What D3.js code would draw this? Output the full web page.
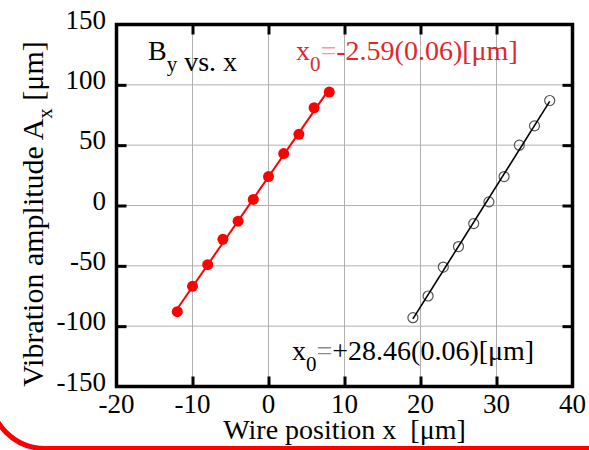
<!DOCTYPE html>
<html>
<head>
<meta charset="utf-8">
<script src="https://cdn.jsdelivr.net/npm/d3@7"></script>
<style>
  body { margin: 0; background: #fff; }
  text { font-family: "Liberation Serif", "Times New Roman", serif; white-space: pre; }
</style>
</head>
<body>
<div id="chart"></div>
<script>
// B_y vs. x scan, two wire positions
const redX = [-12, -10, -8, -6, -4, -2, 0, 2, 4, 6, 8];
const redY = [-88, -67, -49, -28, -13, 5, 24, 43, 59, 81, 94];
const blackX = [19, 21, 23, 25, 27, 29, 31, 33, 35, 37];
const blackY = [-93, -75, -51, -34, -15, 3, 24, 50, 66, 87];
const xTicks = [-20, -10, 0, 10, 20, 30, 40];
const yTicks = [-150, -100, -50, 0, 50, 100, 150];

var width = 589, height = 450;
var plot = { left: 116.5, right: 572.5, top: 24.5, bottom: 386.5 };

var svg = d3.select("#chart").append("svg")
    .attr("width", width)
    .attr("height", height);

let x = d3.scaleLinear().domain([-20, 40]).range([plot.left, plot.right]);
let y = d3.scaleLinear().domain([-150, 150]).range([plot.bottom, plot.top]);

// red rounded frame around the slide (only its bottom-left corner shows)
svg.append("rect")
    .attr("x", -10).attr("y", -120)
    .attr("width", width + 200).attr("height", 568.5)
    .attr("rx", 55).attr("ry", 55)
    .style("fill", "none")
    .style("stroke", "#ff0000")
    .style("stroke-width", 5);

// grid
let inner = d => d > -20 && d < 40;
let innerY = d => d > -150 && d < 150;
svg.selectAll(".gx").data(xTicks.filter(inner)).enter().append("line")
    .attr("x1", d => x(d)).attr("x2", d => x(d))
    .attr("y1", plot.top).attr("y2", plot.bottom)
    .style("stroke", "#b0b0b0").style("stroke-width", 1);
svg.selectAll(".gy").data(yTicks.filter(innerY)).enter().append("line")
    .attr("x1", plot.left).attr("x2", plot.right)
    .attr("y1", d => y(d)).attr("y2", d => y(d))
    .style("stroke", "#b0b0b0").style("stroke-width", 1);

// inward ticks on all four sides
svg.append("g").attr("transform", "translate(0," + plot.bottom + ")")
    .call(d3.axisTop(x).tickValues(xTicks.filter(inner)).tickSize(10).tickFormat(""));
svg.append("g").attr("transform", "translate(0," + plot.top + ")")
    .call(d3.axisBottom(x).tickValues(xTicks.filter(inner)).tickSize(10).tickFormat(""));
svg.append("g").attr("transform", "translate(" + plot.left + ",0)")
    .call(d3.axisRight(y).tickValues(yTicks.filter(innerY)).tickSize(10).tickFormat(""));
svg.append("g").attr("transform", "translate(" + plot.right + ",0)")
    .call(d3.axisLeft(y).tickValues(yTicks.filter(innerY)).tickSize(10).tickFormat(""));
svg.selectAll(".domain").remove();
svg.selectAll(".tick text").remove();
svg.selectAll(".tick line").style("stroke", "#000").style("stroke-width", 3);

// frame
svg.append("rect")
    .attr("x", plot.left).attr("y", plot.top)
    .attr("width", plot.right - plot.left).attr("height", plot.bottom - plot.top)
    .style("fill", "none").style("stroke", "#000").style("stroke-width", 3.5);

// tick labels
svg.selectAll(".xl").data(xTicks).enter().append("text")
    .attr("x", d => x(d)).attr("y", 413)
    .attr("text-anchor", "middle")
    .style("font-size", "27px")
    .text(d => d);
svg.selectAll(".yl").data(yTicks).enter().append("text")
    .attr("x", 106).attr("y", d => y(d) + 4)
    .attr("text-anchor", "end")
    .style("font-size", "27px")
    .text(d => d);

// axis titles
svg.append("text")
    .attr("x", (plot.left + plot.right) / 2).attr("y", 439)
    .attr("text-anchor", "middle")
    .style("font-size", "28px")
    .text("Wire position x  [μm]");

let yt = svg.append("text")
    .attr("transform", "translate(43,214) rotate(-90)")
    .attr("text-anchor", "middle")
    .style("font-size", "30px");
yt.append("tspan").text("Vibration amplitude A");
yt.append("tspan").attr("dy", 9).style("font-size", "21px").text("x");
yt.append("tspan").attr("dy", -9).text(" [μm]");

// least squares fit
function fit(xs, ys) {
    let mx = d3.mean(xs), my = d3.mean(ys);
    let sxy = d3.sum(xs, (v, i) => (v - mx) * (ys[i] - my));
    let sxx = d3.sum(xs, v => (v - mx) * (v - mx));
    let b = sxy / sxx;
    return v => my + b * (v - mx);
}

let redFit = fit(redX, redY);
let blackFit = fit(blackX, blackY);
let line = d3.line().x(d => x(d[0])).y(d => y(d[1]));

svg.append("path")
    .attr("d", line(d3.extent(redX).map(v => [v, redFit(v)])))
    .style("fill", "none").style("stroke", "#ff0000").style("stroke-width", 2);

svg.selectAll(".rp").data(redX).enter().append("circle")
    .attr("cx", d => x(d))
    .attr("cy", (d, i) => y(redY[i]))
    .attr("r", 5.5)
    .style("fill", "#ff0000");

svg.selectAll(".bp").data(blackX).enter().append("circle")
    .attr("cx", d => x(d))
    .attr("cy", (d, i) => y(blackY[i]))
    .attr("r", 5)
    .style("fill", "none")
    .style("stroke", "#555")
    .style("stroke-width", 1.2);

svg.append("path")
    .attr("d", line(d3.extent(blackX).map(v => [v, blackFit(v)])))
    .style("fill", "none").style("stroke", "#000").style("stroke-width", 1.6);

// annotations: main letter, subscript, faded "=", rest
function label(tx, ty, color, main, sub, eq, rest, size) {
    let t = svg.append("text").attr("x", tx).attr("y", ty)
        .style("font-size", size + "px").style("fill", color);
    t.append("tspan").text(main);
    t.append("tspan").attr("dy", 11).style("font-size", "21px").text(sub);
    t.append("tspan").attr("dy", -11).style("opacity", 0.45).text(eq);
    t.append("tspan").text(rest);
    return t;
}

label(148, 60, "#000", "B", "y", "", " vs. x", 28);
label(296, 60, "#e0282b", "x", "0", "=", "-2.59(0.06)[μm]", 28);
label(292, 360, "#000", "x", "0", "=", "+28.46(0.06)[μm]", 28);
</script>
</body>
</html>
